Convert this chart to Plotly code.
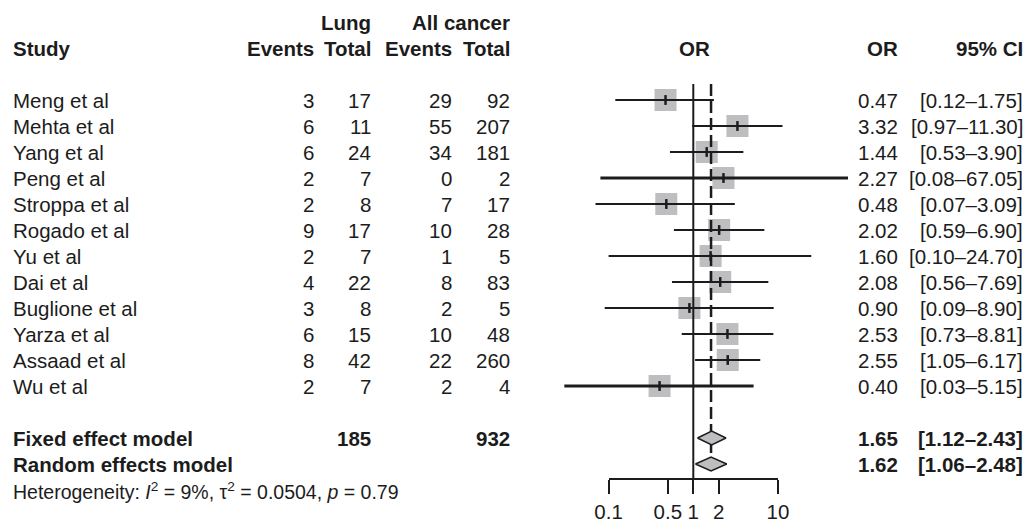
import plotly.graph_objects as go

# ---------------- data ----------------
studies = ["Meng et al", "Mehta et al", "Yang et al", "Peng et al", "Stroppa et al",
           "Rogado et al", "Yu et al", "Dai et al", "Buglione et al", "Yarza et al",
           "Assaad et al", "Wu et al"]
lung_events = [3, 6, 6, 2, 2, 9, 2, 4, 3, 6, 8, 2]
lung_total = [17, 11, 24, 7, 8, 17, 7, 22, 8, 15, 42, 7]
all_events = [29, 55, 34, 0, 7, 10, 1, 8, 2, 10, 22, 2]
all_total = [92, 207, 181, 2, 17, 28, 5, 83, 5, 48, 260, 4]
or_est = [0.47, 3.32, 1.44, 2.27, 0.48, 2.02, 1.60, 2.08, 0.90, 2.53, 2.55, 0.40]
or_lo = [0.12, 0.97, 0.53, 0.08, 0.07, 0.59, 0.10, 0.56, 0.09, 0.73, 1.05, 0.03]
or_hi = [1.75, 11.30, 3.90, 67.05, 3.09, 6.90, 24.70, 7.69, 8.90, 8.81, 6.17, 5.15]
ci_width = [2, 2, 2, 3, 2, 2, 2, 2, 2, 2, 2, 3]

models = ["Fixed effect model", "Random effects model"]
model_or = [1.65, 1.62]
model_lo = [1.12, 1.06]
model_hi = [2.43, 2.48]
total_lung = 185
total_all = 932
hetero = "Heterogeneity: <i>I</i><sup>2</sup> = 9%, τ<sup>2</sup> = 0.0504, <i>p</i> = 0.79"

tick_vals = [0.1, 0.5, 1, 2, 10]
tick_text = ["0.1", "0.5", "1", "2", "10"]

# ---------------- layout constants ----------------
W, H = 1033, 526
ROW0_PX, ROW_PX = 100, 26          # pixel of first study row, row spacing
X1_PX, DEC_PX = 693.3, 84.7        # pixel of OR=1, pixels per decade
TXT = "#1c1c1c"
GREY = "#bebec0"
FONT = "Liberation Sans, Arial, sans-serif"
FS = 20.5

n = len(studies)
fixed_row, random_row, het_row = n + 1, n + 2, n + 3
y_top = -ROW0_PX / ROW_PX
y_bot = (H - ROW0_PX) / ROW_PX
axis_row = (478 - ROW0_PX) / ROW_PX

fig = go.Figure()

# squares
fig.add_trace(go.Scatter(x=or_est, y=list(range(n)), mode="markers",
                         marker=dict(symbol="square", size=22, color=GREY, line=dict(width=0)),
                         hoverinfo="skip"))

# reference line at OR = 1
fig.add_trace(go.Scatter(x=[1, 1], y=[-0.62, axis_row], mode="lines",
                         line=dict(color=TXT, width=2), hoverinfo="skip"))
# dashed line at random-effects estimate
fig.add_trace(go.Scatter(x=[model_or[1], model_or[1]], y=[-0.62, random_row - 0.27], mode="lines",
                         line=dict(color=TXT, width=2.5, dash="12px,5px"), hoverinfo="skip"))

# confidence intervals
for i in range(n):
    fig.add_trace(go.Scatter(x=[or_lo[i], or_hi[i]], y=[i, i], mode="lines",
                             line=dict(color=TXT, width=ci_width[i]), hoverinfo="skip"))
fig.add_trace(go.Scatter(x=or_est, y=list(range(n)), mode="markers",
                         marker=dict(symbol="line-ns", size=7, line=dict(color=TXT, width=2.5)),
                         hoverinfo="skip"))

# diamonds
hh = 0.27
for k, r in enumerate([fixed_row, random_row]):
    fig.add_trace(go.Scatter(x=[model_lo[k], model_or[k], model_hi[k], model_or[k], model_lo[k]],
                             y=[r, r - hh, r, r + hh, r], mode="lines", fill="toself",
                             fillcolor=GREY, line=dict(color=TXT, width=1.5), hoverinfo="skip"))

# bottom axis (own axis spanning 0.1 .. 10)
fig.add_trace(go.Scatter(x=[1], y=[0], xaxis="x2", yaxis="y2", mode="markers",
                         marker=dict(opacity=0), hoverinfo="skip"))

ann = []


def txt(x_px, row, s, anchor="left", bold=False, size=FS):
    ann.append(dict(x=x_px / W, xref="paper", y=row, yref="y", text=f"<b>{s}</b>" if bold else s,
                    showarrow=False, xanchor=anchor, yanchor="middle",
                    font=dict(family=FONT, size=size, color=TXT)))


# headers
txt(373, -3, "Lung", "right", True)
txt(512, -3, "All cancer", "right", True)
txt(11, -2, "Study", "left", True)
txt(316, -2, "Events", "right", True)
txt(373, -2, "Total", "right", True)
txt(454, -2, "Events", "right", True)
txt(512, -2, "Total", "right", True)
ann.append(dict(x=694 / W, xref="paper", y=-2, yref="y", text="<b>OR</b>", showarrow=False,
                xanchor="center", yanchor="middle", font=dict(family=FONT, size=FS, color=TXT)))
txt(900, -2, "OR", "right", True)
txt(1025, -2, "95% CI", "right", True)

for i in range(n):
    txt(11, i, studies[i])
    txt(316, i, str(lung_events[i]), "right")
    txt(373, i, str(lung_total[i]), "right")
    txt(454, i, str(all_events[i]), "right")
    txt(512, i, str(all_total[i]), "right")
    txt(900, i, f"{or_est[i]:.2f}", "right")
    txt(1025, i, f"[{or_lo[i]:.2f}–{or_hi[i]:.2f}]", "right")

for k, r in enumerate([fixed_row, random_row]):
    txt(11, r, models[k], "left", True)
    txt(900, r, f"{model_or[k]:.2f}", "right", True)
    txt(1025, r, f"[{model_lo[k]:.2f}–{model_hi[k]:.2f}]", "right", True)
txt(373, fixed_row, str(total_lung), "right", True)
txt(512, fixed_row, str(total_all), "right", True)
txt(11, het_row + 0.05, hetero, "left", False, 19.5)

x_left = -X1_PX / DEC_PX
x_right = (W - X1_PX) / DEC_PX
ax_dom = [(X1_PX - DEC_PX) / W, (X1_PX + DEC_PX) / W]
axis_paper = 1 - 478 / H

fig.update_layout(
    template="none",
    width=W, height=H, autosize=False, margin=dict(l=0, r=0, t=0, b=0, pad=0),
    paper_bgcolor="white", plot_bgcolor="rgba(0,0,0,0)",
    showlegend=False, hovermode=False,
    xaxis=dict(type="log", range=[x_left, x_right], domain=[0, 1], visible=False,
               fixedrange=True, automargin=False),
    yaxis=dict(range=[y_bot, y_top], domain=[0, 1], visible=False, fixedrange=True, automargin=False),
    xaxis2=dict(type="log", range=[-1, 1], domain=ax_dom, anchor="y2", side="bottom",
                showline=True, linecolor=TXT, linewidth=2, showgrid=False, zeroline=False,
                ticks="outside", ticklen=14, tickwidth=2, tickcolor=TXT,
                tickvals=tick_vals, ticktext=tick_text, automargin=False,
                tickfont=dict(family=FONT, size=FS, color=TXT), fixedrange=True),
    yaxis2=dict(domain=[axis_paper, axis_paper + 0.1], anchor="x2", visible=False,
                fixedrange=True, automargin=False),
    annotations=ann,
)

fig.write_html("out.html", config={"responsive": False, "displayModeBar": False},
               post_script="document.body.style.margin='0px';document.body.style.overflow='hidden';")
